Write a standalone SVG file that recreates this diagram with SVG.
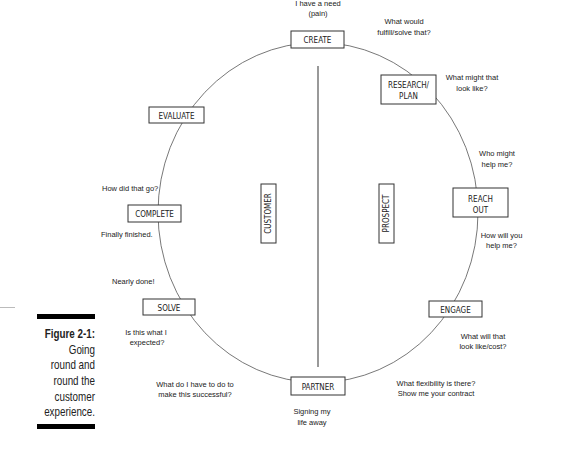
<svg xmlns="http://www.w3.org/2000/svg" width="587" height="450" viewBox="0 0 587 450">
<style>
.box{fill:#fff;stroke:#333;stroke-width:1}
.lbl{font-family:"Liberation Sans Narrow","DejaVu Sans Condensed","Liberation Sans",sans-serif;font-size:8px;fill:#222;text-anchor:middle}
.ann{font-family:"Liberation Sans",Arial,sans-serif;font-size:7.5px;fill:#222}
.mid{text-anchor:middle}
.cap{font-family:"Liberation Sans",Arial,sans-serif;font-size:12px;fill:#222;text-anchor:end}
</style>
<rect width="587" height="450" fill="#fff"/>
<g id="connectors">
<ellipse cx="318" cy="212.5" rx="160" ry="170" fill="none" stroke="#555" stroke-width="0.8"/>
</g>
<line id="divider" x1="318" y1="66" x2="318" y2="367" stroke="#777" stroke-width="1.5"/>
<g id="create"><rect class="box" x="291" y="31" width="53" height="17"/><text class="lbl" x="317.5" y="43">CREATE</text></g>
<g id="research"><rect class="box" x="381" y="75" width="55" height="29"/><text class="lbl" x="408.5" y="88">RESEARCH/</text><text class="lbl" x="408.5" y="99">PLAN</text></g>
<g id="reach"><rect class="box" x="453" y="188" width="55" height="29"/><text class="lbl" x="480.5" y="202">REACH</text><text class="lbl" x="480.5" y="212.5">OUT</text></g>
<g id="engage"><rect class="box" x="429" y="301" width="53" height="16"/><text class="lbl" x="455.5" y="312.5">ENGAGE</text></g>
<g id="partner"><rect class="box" x="291" y="377" width="54" height="18"/><text class="lbl" x="318" y="390">PARTNER</text></g>
<g id="solve"><rect class="box" x="143" y="299" width="52" height="16"/><text class="lbl" x="169" y="311">SOLVE</text></g>
<g id="complete"><rect class="box" x="128" y="205" width="53" height="17"/><text class="lbl" x="154.5" y="217">COMPLETE</text></g>
<g id="evaluate"><rect class="box" x="149" y="107" width="55" height="16"/><text class="lbl" x="176.5" y="118.5">EVALUATE</text></g>
<g id="customer"><rect class="box" x="261" y="184" width="15" height="59"/><text class="lbl" transform="translate(271.3,213.5) rotate(-90)">CUSTOMER</text></g>
<g id="prospect"><rect class="box" x="379" y="184" width="15" height="59"/><text class="lbl" transform="translate(389.3,213.5) rotate(-90)">PROSPECT</text></g>
<g id="annotations">
<text class="ann mid" x="318" y="6">I have a need</text>
<text class="ann mid" x="318" y="16">(pain)</text>
<text class="ann mid" x="404" y="24">What would</text>
<text class="ann mid" x="404" y="34.5">fulfill/solve that?</text>
<text class="ann mid" x="472" y="80">What might that</text>
<text class="ann mid" x="472" y="90.5">look like?</text>
<text class="ann mid" x="497" y="156">Who might</text>
<text class="ann mid" x="497" y="166.5">help me?</text>
<text class="ann mid" x="501.5" y="238">How will you</text>
<text class="ann mid" x="501.5" y="248">help me?</text>
<text class="ann mid" x="483" y="339">What will that</text>
<text class="ann mid" x="483" y="349">look like/cost?</text>
<text class="ann mid" x="436" y="385.5">What flexibility is there?</text>
<text class="ann mid" x="436" y="395.5">Show me your contract</text>
<text class="ann mid" x="312" y="414">Signing my</text>
<text class="ann mid" x="312" y="424.5">life away</text>
<text class="ann mid" x="195" y="387">What do I have to do to</text>
<text class="ann mid" x="195" y="397">make this successful?</text>
<text class="ann mid" x="146" y="335">Is this what I</text>
<text class="ann mid" x="147" y="345">expected?</text>
<text class="ann" x="112" y="284">Nearly done!</text>
<text class="ann" x="102" y="190.5">How did that go?</text>
<text class="ann" x="101" y="237">Finally finished.</text>
</g>
<g id="caption">
<line x1="0" y1="307.5" x2="15" y2="307.5" stroke="#bbb" stroke-width="1"/>
<rect x="37" y="314" width="58" height="5" fill="#000"/>
<g transform="scale(0.82 1)">
<text class="cap" x="115.85" y="338" font-weight="bold">Figure 2-1:</text>
<text class="cap" x="115.85" y="353.7">Going</text>
<text class="cap" x="115.85" y="369.4">round and</text>
<text class="cap" x="115.85" y="385">round the</text>
<text class="cap" x="115.85" y="400.8">customer</text>
<text class="cap" x="115.85" y="416.5">experience.</text>
</g>
<rect x="37" y="424" width="58" height="5" fill="#000"/>
</g>
</svg>
